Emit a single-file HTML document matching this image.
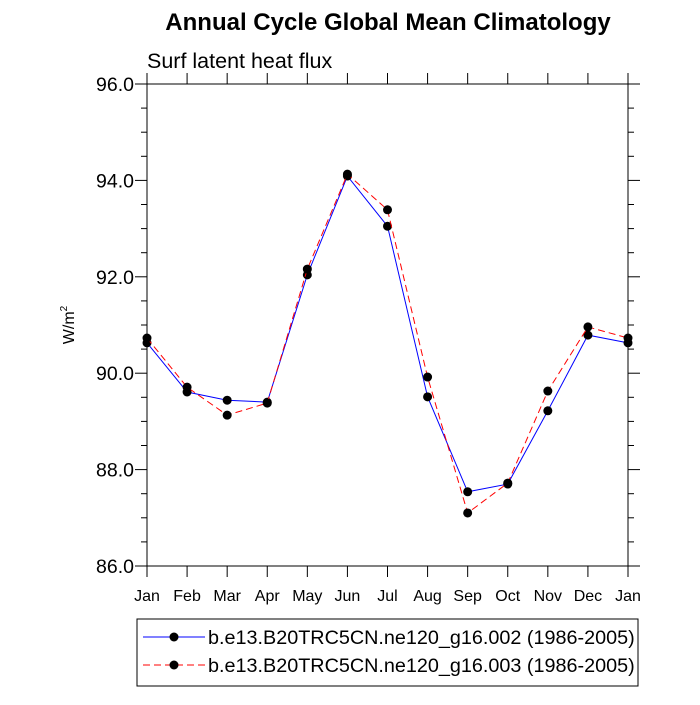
<!DOCTYPE html>
<html><head><meta charset="utf-8"><style>body{margin:0;background:#fff}svg text{font-family:"Liberation Sans",sans-serif}</style></head>
<body>
<svg id="c" width="700" height="700" xmlns="http://www.w3.org/2000/svg">
<text x="388" y="30" font-size="24" font-weight="bold" text-anchor="middle">Annual Cycle Global Mean Climatology</text>
<text x="147" y="68" font-size="21.5">Surf latent heat flux</text>
<text transform="translate(74,325) rotate(-90)" font-size="16" text-anchor="middle">W/m<tspan dy="-7" font-size="10">2</tspan></text>
<g id="axes"></g><g id="series"></g>
<rect x="137" y="619" width="501" height="67" fill="none" stroke="#000"/>
<g><line x1="143" y1="637" x2="205" y2="637" stroke="#00f"/><circle cx="174" cy="637" r="4.5"/><text x="208" y="644" font-size="19.8">b.e13.B20TRC5CN.ne120_g16.002 (1986-2005)</text></g>
<g><line x1="143" y1="665" x2="205" y2="665" stroke="#f00" stroke-dasharray="7,4"/><circle cx="174" cy="665" r="4.5"/><text x="208" y="672" font-size="19.8">b.e13.B20TRC5CN.ne120_g16.003 (1986-2005)</text></g>
</svg>
<script>
const months=["Jan","Feb","Mar","Apr","May","Jun","Jul","Aug","Sep","Oct","Nov","Dec","Jan"];
const series002=[90.63,89.61,89.44,89.40,92.04,94.09,93.05,89.51,87.54,87.70,89.22,90.79,90.63];
const series003=[90.73,89.71,89.13,89.38,92.16,94.13,93.39,89.92,87.10,87.72,89.63,90.96,90.73];
const yTicks=[86,88,90,92,94,96];
const X0=147,X1=628,Y0=566,Y1=84,YMIN=86,YMAX=96;
const xs=i=>X0+i*(X1-X0)/(months.length-1);
const ys=v=>Y0-(v-YMIN)*(Y0-Y1)/(YMAX-YMIN);
const NS="http://www.w3.org/2000/svg";
function mk(p,t,a){const e=document.createElementNS(NS,t);for(const k in a)e.setAttribute(k,a[k]);p.appendChild(e);return e;}
const ax=document.getElementById('axes'),sg=document.getElementById('series');
const fr=mk(ax,'rect',{x:X0,y:Y1,width:X1-X0,height:Y0-Y1,fill:'none',stroke:'#000'});


months.forEach((m,i)=>{const x=xs(i);
mk(ax,'line',{x1:x,y1:Y0,x2:x,y2:Y0+11,stroke:'#000'});
mk(ax,'line',{x1:x,y1:Y1,x2:x,y2:Y1-11,stroke:'#000'});
const t=mk(ax,'text',{x:x,y:Y0+35,'font-size':16,'text-anchor':'middle'});t.textContent=m;

});
for(let v=YMIN;v<=YMAX+1e-9;v+=0.5){const y=ys(v);const maj=Math.abs(v%2)<1e-9;const L=maj?12:6;
mk(ax,'line',{x1:X0-L,y1:y,x2:X0,y2:y,stroke:'#000'});mk(ax,'line',{x1:X1,y1:y,x2:X1+L,y2:y,stroke:'#000'});}
yTicks.forEach(v=>{const t=mk(ax,'text',{x:X0-13,y:ys(v)+7,'font-size':19.5,'text-anchor':'end'});t.textContent=v.toFixed(1);

});
function draw(d,col,dash,name){const pl=mk(sg,'polyline',{points:d.map((v,i)=>xs(i)+','+ys(v)).join(' '),fill:'none',stroke:col,'stroke-dasharray':dash});


d.forEach((v,i)=>{const c=mk(sg,'circle',{cx:xs(i),cy:ys(v),r:4.5,fill:'#000'});

});}
draw(series002,'#00f','none','series-002');
draw(series003,'#f00','7,4','series-003');
</script>
</body></html>
